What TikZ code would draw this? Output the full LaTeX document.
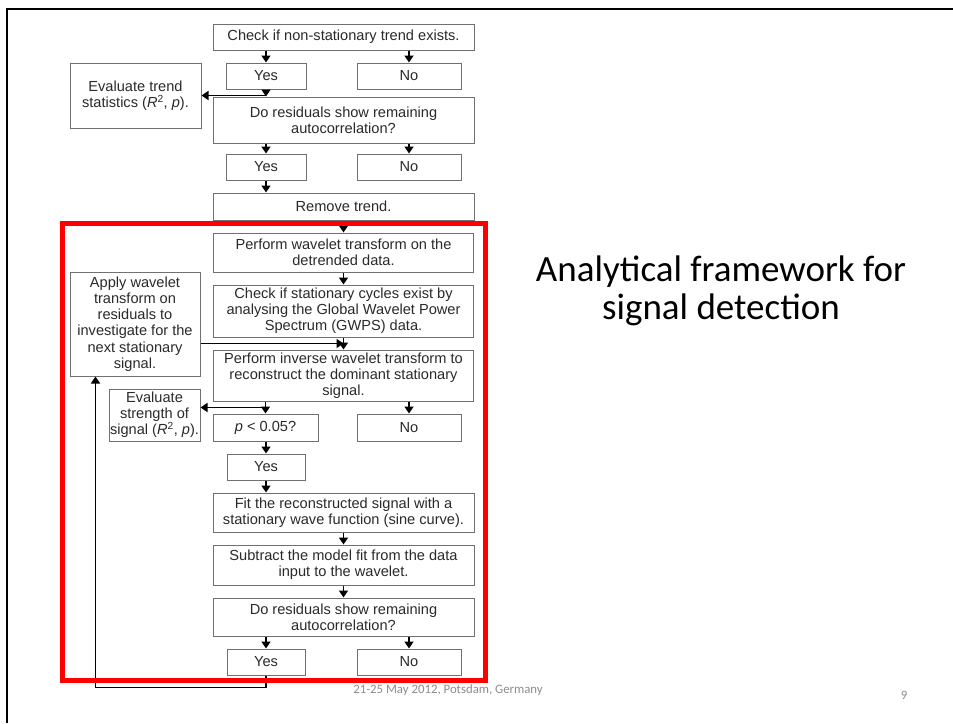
\documentclass[tikz,border=0pt]{standalone}
\usepackage{fontspec}
\setmainfont{Liberation Sans}
\newfontfamily\slidefont{Carlito}
\usetikzlibrary{arrows.meta,calc}

\definecolor{boxline}{HTML}{707070}
\definecolor{boxtext}{HTML}{2A2A2A}
\definecolor{foottext}{HTML}{8C8C8C}

\tikzset{
  flowbox/.style={draw=boxline, line width=1pt, fill=white, text=boxtext, align=center,
    inner sep=0pt, font=\fontsize{14.6}{16.2}\selectfont},
  arr/.style={-{Triangle[width=9pt,length=7pt]}, line width=1.7pt},
}

\begin{document}
\begin{tikzpicture}[x=1pt,y=-1pt]
        \useasboundingbox (0,0) rectangle (953,723);
        % slide frame (top and left only)
        \draw[line width=2pt] (7,723) -- (7,9) -- (953,9);

        % upper part: trend
        \node[flowbox, minimum width=261pt, minimum height=26pt] (chk) at (343.5,37) {Check if non-stationary trend exists.};
        \node[flowbox, minimum width=80pt, minimum height=26pt] (yesA) at (266,76) {Yes};
        \node[flowbox, minimum width=104pt, minimum height=26pt] (noA) at (409,76) {No};
        \node[flowbox, minimum width=131pt, minimum height=65pt] (evtrend) at (135.5,95.5) {Evaluate trend\\statistics (\textit{R}\textsuperscript{2}, \textit{p}).};
        \node[flowbox, minimum width=261pt, minimum height=46pt] (resA) at (343.5,120) {Do residuals show remaining\\autocorrelation?};
        \node[flowbox, minimum width=80pt, minimum height=26pt] (yesB) at (266,167) {Yes};
        \node[flowbox, minimum width=104pt, minimum height=26pt] (noB) at (409,167) {No};
        \node[flowbox, minimum width=261pt, minimum height=27pt] (remove) at (343.5,206.5) {Remove trend.};

        % lower part: wavelet
        \node[flowbox, minimum width=260pt, minimum height=39pt] (wav) at (343.5,252.5) {Perform wavelet transform on the\\detrended data.};
        \node[flowbox, minimum width=260pt, minimum height=52pt] (cyc) at (343.5,311) {Check if stationary cycles exist by\\analysing the Global Wavelet Power\\Spectrum (GWPS) data.};
        \node[flowbox, minimum width=130pt, minimum height=104pt] (apply) at (135,324) {Apply wavelet\\transform on\\residuals to\\investigate for the\\next stationary\\signal.};
        \node[flowbox, minimum width=260pt, minimum height=51pt] (inv) at (343.5,375.5) {Perform inverse wavelet transform to\\reconstruct the dominant stationary\\signal.};
        \node[flowbox, minimum width=91pt, minimum height=52pt] (evsig) at (154.5,415) {Evaluate\\strength of\\signal (\textit{R}\textsuperscript{2}, \textit{p}).};
        \node[flowbox, minimum width=105pt, minimum height=27pt] (pval) at (265.5,427.5) {\textit{p} < 0.05?};
        \node[flowbox, minimum width=104pt, minimum height=27pt] (noC) at (409,427.5) {No};
        \node[flowbox, minimum width=78pt, minimum height=26pt] (yesC) at (266,467) {Yes};
        \node[flowbox, minimum width=261pt, minimum height=39pt] (fit) at (343.5,512.5) {Fit the reconstructed signal with a\\stationary wave function (sine curve).};
        \node[flowbox, minimum width=261pt, minimum height=40pt] (sub) at (343.5,565) {Subtract the model fit from the data\\input to the wavelet.};
        \node[flowbox, minimum width=261pt, minimum height=38pt] (resB) at (343.5,617) {Do residuals show remaining\\autocorrelation?};
        \node[flowbox, minimum width=78pt, minimum height=26pt] (yesD) at (266,662) {Yes};
        \node[flowbox, minimum width=104pt, minimum height=26pt] (noD) at (409,662) {No};

        % arrows
        \draw[arr] (chk.south -| yesA.north) -- (yesA.north);
        \draw[arr] (chk.south -| noA.north) -- (noA.north);
        \draw[arr] (yesA.south) -- (resA.north -| yesA.south);
        \draw[arr] (yesA.south |- evtrend.east) -- (evtrend.east);
        \draw[arr] (resA.south -| yesB.north) -- (yesB.north);
        \draw[arr] (resA.south -| noB.north) -- (noB.north);
        \draw[arr] (yesB.south) -- (remove.north -| yesB.south);
        \draw[arr] (remove.south) -- (wav.north);
        \draw[arr] (wav.south) -- (cyc.north);
        \draw[arr] (cyc.south) -- (inv.north);
        \coordinate (gapA) at ($(cyc.south)!.5!(inv.north)$);
        \draw[arr] (gapA -| apply.east) -- (gapA);
        \draw[arr] (inv.south -| pval.north) -- (pval.north);
        \draw[arr] (inv.south -| noC.north) -- (noC.north);
        \coordinate (gapB) at ($(inv.south)!.5!(pval.north)$);
        \draw[arr] (gapB -| pval.north) -- (gapB -| evsig.east);
        \draw[arr] (pval.south -| yesC.north) -- (yesC.north);
        \draw[arr] (yesC.south) -- (fit.north -| yesC.south);
        \draw[arr] (fit.south) -- (sub.north);
        \draw[arr] (sub.south) -- (resB.north);
        \draw[arr] (resB.south -| yesD.north) -- (yesD.north);
        \draw[arr] (resB.south -| noD.north) -- (noD.north);
        \draw[arr] (yesD.south) -- ++(0,12) -| ([xshift=26pt]apply.south west);  % loop back

        % red frame round the wavelet part
        \draw[red, line width=5pt] (62,223) rectangle (485,680);

        % slide texts
        \node[font=\slidefont\fontsize{37}{38}\selectfont, align=center] (title) at (721,291) {Analytical framework for\\signal detection};
        \node[font=\slidefont\fontsize{12.8}{14}\selectfont, text=foottext] (foot) at (448,690) {21-25 May 2012, Potsdam, Germany};
        \node[font=\slidefont\fontsize{12.8}{14}\selectfont, text=foottext] (page) at (904,695) {9};
    \end{tikzpicture}
\end{document}
